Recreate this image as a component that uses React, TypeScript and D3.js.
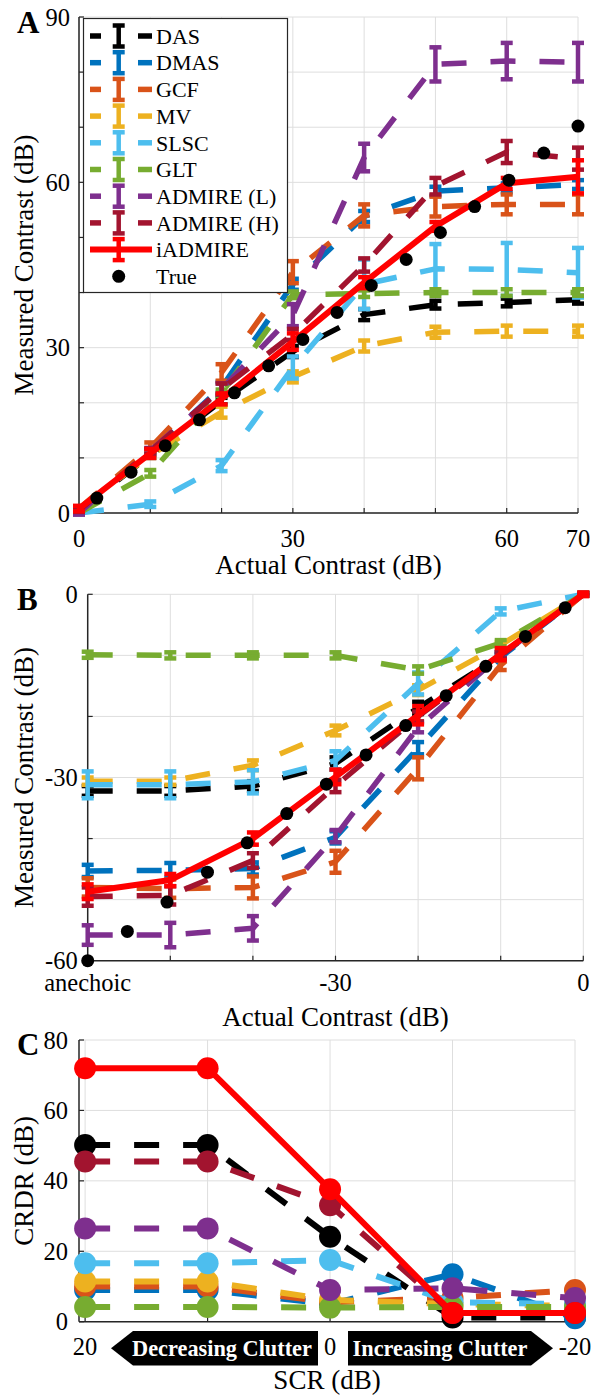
import React from 'react';
import * as d3 from 'd3';

const FONT = '"Liberation Serif","Times New Roman",Times,serif';

const methodNames = ['DAS', 'DMAS', 'GCF', 'MV', 'SLSC', 'GLT', 'ADMIRE (L)', 'ADMIRE (H)', 'iADMIRE'];
const methodColors = ['#000000', '#0072BD', '#D95319', '#EDB120', '#4DBEEE', '#77AC30', '#7E2F8E', '#A2142F', '#FF0000'];

// ---------- Panel A : hyperechoic / positive contrast ----------
const aActual = [0, 10, 20, 30, 40, 50, 60, 70];
const aDAS = [0.5, 10.5, 20.3, 29.3, 36.0, 37.8, 38.2, 38.7];
const aDASErr = [0.3, 0.5, 0.6, 1.0, 1.0, 0.7, 0.7, 0.7];
const aDMAS = [0.6, 11.0, 22.8, 41.5, 53.8, 58.4, 59.0, 59.6];
const aDMASErr = [0.3, 0.5, 1.0, 1.0, 1.0, 0.8, 0.8, 0.8];
const aGCF = [0.8, 11.8, 25.5, 43.7, 54.0, 55.6, 56.0, 56.0];
const aGCFErr = [0.3, 1.0, 1.5, 2.0, 2.0, 1.8, 1.8, 1.8];
const aMV = [0.8, 10.5, 18.3, 24.7, 30.3, 32.8, 33.0, 33.0];
const aMVErr = [0.3, 0.5, 1.0, 1.0, 1.0, 1.0, 1.0, 1.0];
const aSLSC = [0.0, 1.6, 8.6, 26.4, 41.5, 44.3, 44.2, 43.6];
const aSLSCErr = [0.2, 0.5, 1.0, 2.0, 4.5, 4.5, 4.8, 4.5];
const aGLT = [0.0, 7.2, 21.8, 39.6, 39.8, 40.0, 40.0, 40.0];
const aGLTErr = [0.2, 0.6, 0.6, 0.6, 0.6, 0.6, 0.6, 0.6];
const aADMIREL = [0.0, 11.3, 22.5, 35.9, 64.5, 81.4, 82.0, 81.8];
const aADMIRELErr = [0.3, 0.5, 1.0, 2.0, 2.5, 3.1, 3.3, 3.5];
const aADMIREH = [0.5, 11.2, 22.5, 32.4, 45.0, 59.3, 65.5, 64.3];
const aADMIREHErr = [0.3, 0.5, 1.0, 1.0, 1.2, 1.5, 2.0, 2.0];
const aIADMIRE = [0.8, 10.8, 20.7, 31.1, 41.8, 52.0, 59.8, 61.0];
const aIADMIREErr = [0.5, 0.8, 1.0, 1.5, 1.0, 0.8, 1.0, 3.0];
const aTrueX = [2.5, 7.3, 12.1, 16.9, 21.8, 26.6, 31.4, 36.2, 41.0, 45.9, 50.7, 55.5, 60.3, 65.2, 70.0];
const aTrueY = [2.7, 7.4, 12.2, 16.9, 21.8, 26.7, 31.5, 36.4, 41.3, 46.0, 50.9, 55.6, 60.4, 65.3, 70.2];
const aXTicks = [0, 10, 20, 30, 40, 50, 60, 70];
const aXTickLabels = ['0', '', '', '30', '', '', '60', '70'];
const aYTicks = [0, 10, 20, 30, 40, 50, 60, 70, 80, 90];
const aYTickLabels = ['0', '', '', '30', '', '', '60', '', '', '90'];

// ---------- Panel B : hypoechoic / negative contrast ----------
const bActual = [-60, -50, -40, -30, -20, -10, 0];
const bDAS = [-32.2, -32.2, -31.4, -27.7, -18.6, -10.0, 0.0];
const bDASErr = [0.8, 0.8, 0.8, 1.0, 1.0, 0.5, 0.2];
const bDMAS = [-45.3, -45.2, -44.9, -39.8, -25.2, -10.3, 0.0];
const bDMASErr = [1.0, 1.2, 1.0, 1.0, 1.0, 0.5, 0.2];
const bGCF = [-48.0, -48.2, -48.0, -43.8, -28.5, -11.6, 0.0];
const bGCFErr = [1.5, 1.5, 1.8, 1.8, 1.8, 0.8, 0.2];
const bMV = [-30.6, -30.6, -28.0, -22.3, -15.7, -8.3, 0.0];
const bMVErr = [0.6, 0.6, 0.8, 0.8, 0.8, 0.5, 0.2];
const bSLSC = [-31.2, -31.2, -30.7, -27.2, -14.6, -2.8, 0.0];
const bSLSCErr = [2.2, 2.2, 1.9, 1.5, 1.8, 0.5, 0.2];
const bGLT = [-9.9, -10.0, -10.0, -10.0, -12.4, -8.0, 0.0];
const bGLTErr = [0.5, 0.5, 0.5, 0.5, 0.6, 0.5, 0.2];
const bADMIREL = [-55.8, -55.8, -54.7, -39.6, -21.8, -10.0, 0.0];
const bADMIRELErr = [1.6, 2.0, 2.0, 1.0, 0.8, 0.5, 0.2];
const bADMIREH = [-49.5, -49.3, -43.6, -31.4, -20.0, -10.0, 0.0];
const bADMIREHErr = [1.5, 1.5, 1.2, 1.0, 0.8, 0.5, 0.2];
const bIADMIRE = [-48.7, -46.8, -40.0, -29.9, -19.8, -9.8, 0.0];
const bIADMIREErr = [1.2, 1.0, 1.0, 1.2, 1.5, 1.0, 0.3];
const bTrueX = [-60.0, -55.2, -50.4, -45.5, -40.7, -35.9, -31.1, -26.3, -21.5, -16.6, -11.8, -7.0, -2.2];
const bTrueY = [-60.0, -55.2, -50.4, -45.5, -40.7, -35.9, -31.1, -26.3, -21.5, -16.6, -11.8, -6.9, -2.2];
const bXTicks = [-60, -50, -40, -30, -20, -10, 0];
const bXTickLabels = ['anechoic', '', '', '-30', '', '', '0'];
const bYTicks = [-60, -50, -40, -30, -20, -10, 0];
const bYTickLabels = ['-60', '', '', '-30', '', '', '0'];

// ---------- Panel C : CRDR vs SCR ----------
const cSCR = [20, 10, 0, -10, -20];
const cDAS = [50.2, 50.2, 24.1, 1.2, 1.2];
const cDMAS = [9.0, 9.0, 5.0, 13.5, 1.0];
const cGCF = [10.0, 10.0, 5.5, 6.7, 9.0];
const cMV = [11.4, 11.4, 6.2, 5.0, 4.5];
const cSLSC = [16.6, 16.6, 17.5, 5.5, 5.0];
const cGLT = [4.2, 4.2, 4.0, 4.2, 4.2];
const cADMIREL = [26.5, 26.5, 9.0, 9.5, 6.7];
const cADMIREH = [45.5, 45.5, 33.1, 2.5, 2.5];
const cIADMIRE = [72.0, 72.0, 37.6, 2.5, 2.5];
const cXTicks = [20, 10, 0, -10, -20];
const cXTickLabels = ['20', '', '0', '', '-20'];
const cYTicks = [0, 20, 40, 60, 80];
const cYTickLabels = ['0', '20', '40', '60', '80'];

const aSeries = [
  [aDAS, aDASErr], [aDMAS, aDMASErr], [aGCF, aGCFErr], [aMV, aMVErr], [aSLSC, aSLSCErr],
  [aGLT, aGLTErr], [aADMIREL, aADMIRELErr], [aADMIREH, aADMIREHErr], [aIADMIRE, aIADMIREErr],
];
const bSeries = [
  [bDAS, bDASErr], [bDMAS, bDMASErr], [bGCF, bGCFErr], [bMV, bMVErr], [bSLSC, bSLSCErr],
  [bGLT, bGLTErr], [bADMIREL, bADMIRELErr], [bADMIREH, bADMIREHErr], [bIADMIRE, bIADMIREErr],
];
const cSeries = [cDAS, cDMAS, cGCF, cMV, cSLSC, cGLT, cADMIREL, cADMIREH, cIADMIRE];

const GRID = '#dedede';
const TICK_FS = 24.5;
const LABEL_FS = 27;
const DASH = '25 24';

type Scale = d3.ScaleLinear<number, number>;

function Axes({ x, y, xTicks, xLabels, yTicks, yLabels, xLabelDy, xTitle, xTitleY, yTitle, yLabelGap }: any) {
  const [xl, xr] = x.range();
  const [yb, yt] = y.range();
  return (
    <g>
      {xTicks.map((t: number, i: number) => (
        <line key={'gx' + i} x1={x(t)} x2={x(t)} y1={yb} y2={yt} stroke={GRID} strokeWidth={1} />
      ))}
      {yTicks.map((t: number, i: number) => (
        <line key={'gy' + i} x1={xl} x2={xr} y1={y(t)} y2={y(t)} stroke={GRID} strokeWidth={1} />
      ))}
      <line x1={xl} x2={xl} y1={yb} y2={yt} stroke="#262626" strokeWidth={1.5} />
      <line x1={xl} x2={xr} y1={yb} y2={yb} stroke="#262626" strokeWidth={1.5} />
      {xTicks.map((t: number, i: number) => (
        <line key={'tx' + i} x1={x(t)} x2={x(t)} y1={yb} y2={yb - 5} stroke="#262626" strokeWidth={1.2} />
      ))}
      {yTicks.map((t: number, i: number) => (
        <line key={'ty' + i} x1={xl} x2={xl + 5} y1={y(t)} y2={y(t)} stroke="#262626" strokeWidth={1.2} />
      ))}
      {xTicks.map((t: number, i: number) => xLabels[i] ? (
        <text key={'lx' + i} x={x(t)} y={yb + xLabelDy} textAnchor="middle" fontSize={TICK_FS} fontFamily={FONT} fill="#000">{xLabels[i]}</text>
      ) : null)}
      {yTicks.map((t: number, i: number) => yLabels[i] ? (
        <text key={'ly' + i} x={xl - yLabelGap} y={y(t)} dy="0.35em" textAnchor="end" fontSize={TICK_FS} fontFamily={FONT} fill="#000">{yLabels[i]}</text>
      ) : null)}
      <text x={(xl + xr) / 2} y={xTitleY} textAnchor="middle" fontSize={LABEL_FS} fontFamily={FONT} fill="#000">{xTitle}</text>
      <text transform={`translate(33,${(yb + yt) / 2}) rotate(-90)`} textAnchor="middle" fontSize={LABEL_FS} fontFamily={FONT} fill="#000">{yTitle}</text>
    </g>
  );
}

function ErrSeries({ xs, ys, errs, x, y, color, solid }: any) {
  const line = d3.line<number>().x((_, i) => x(xs[i])).y((d) => y(d));
  const cap = 6;
  return (
    <g>
      <path d={line(ys) || ''} fill="none" stroke={color} strokeWidth={solid ? 6 : 5.5} strokeDasharray={solid ? undefined : DASH} strokeLinejoin="round" />
      {ys.map((v: number, i: number) => {
        const cx = x(xs[i]);
        const top = y(v + errs[i]);
        const bot = y(v - errs[i]);
        return (
          <g key={i} stroke={color} strokeWidth={4.5}>
            <line x1={cx} x2={cx} y1={top} y2={bot} />
            <line x1={cx - cap} x2={cx + cap} y1={top} y2={top} />
            <line x1={cx - cap} x2={cx + cap} y1={bot} y2={bot} />
          </g>
        );
      })}
    </g>
  );
}

function Legend() {
  const x0 = 83.5, y0 = 18.5, w = 204, h = 274;
  const rowY = (i: number) => 36 + i * 26.7;
  const ex = 118.7;
  return (
    <g>
      <rect x={x0} y={y0} width={w} height={h} fill="#fff" stroke="#262626" strokeWidth={1.2} />
      {methodNames.map((n, i) => {
        const c = methodColors[i];
        const yy = rowY(i);
        const solid = i === 8;
        return (
          <g key={n}>
            {solid ? (
              <line x1={90} x2={152} y1={yy} y2={yy} stroke={c} strokeWidth={6} />
            ) : (
              <g stroke={c} strokeWidth={5.5}>
                <line x1={90} x2={101} y1={yy} y2={yy} />
                <line x1={138} x2={152} y1={yy} y2={yy} />
              </g>
            )}
            <g stroke={c} strokeWidth={4.5}>
              <line x1={ex} x2={ex} y1={yy - 10.5} y2={yy + 10.5} />
              <line x1={ex - 6} x2={ex + 6} y1={yy - 10.5} y2={yy - 10.5} />
              <line x1={ex - 6} x2={ex + 6} y1={yy + 10.5} y2={yy + 10.5} />
            </g>
            <text x={156} y={yy} dy="0.35em" fontSize={22} fontFamily={FONT} fill="#000">{n}</text>
          </g>
        );
      })}
      <circle cx={ex} cy={rowY(9)} r={6.5} fill="#000" />
      <text x={156} y={rowY(9)} dy="0.35em" fontSize={22} fontFamily={FONT} fill="#000">True</text>
    </g>
  );
}

export default function App() {
  const xA: Scale = d3.scaleLinear().domain([0, 70]).range([79, 578]);
  const yA: Scale = d3.scaleLinear().domain([0, 90]).range([513, 17]);
  const xB: Scale = d3.scaleLinear().domain([-60, 0]).range([87.7, 583.3]);
  const yB: Scale = d3.scaleLinear().domain([-60, 0]).range([960.7, 594.3]);
  const xC: Scale = d3.scaleLinear().domain([20.5, -20]).range([79, 575]);
  const yC: Scale = d3.scaleLinear().domain([0, 80]).range([1321.7, 1040]);

  const cLine = d3.line<number>().x((_, i) => xC(cSCR[i])).y((d) => yC(d));

  const arrowTop = 1331, arrowBot = 1365.5, arrowMid = (arrowTop + arrowBot) / 2;
  const decL = 111, decR = 318, incL = 348, incR = 553, tipW = 22;

  return (
    <svg width={592} height={1396} viewBox="0 0 592 1396" style={{ position: 'absolute', left: 0, top: 0, display: 'block', background: '#fff' }}>
      <rect x={0} y={0} width={592} height={1396} fill="#fff" />
      {/* Panel A */}
      <Axes x={xA} y={yA} xTicks={aXTicks} xLabels={aXTickLabels} yTicks={aYTicks} yLabels={aYTickLabels}
        xLabelDy={34} xTitle="Actual Contrast (dB)" xTitleY={574} yTitle="Measured Contrast (dB)" yLabelGap={9} />
      {aSeries.map(([v, e], i) => (
        <ErrSeries key={i} xs={aActual} ys={v} errs={e} x={xA} y={yA} color={methodColors[i]} solid={i === 8} />
      ))}
      {aTrueX.map((t, i) => <circle key={i} cx={xA(t)} cy={yA(aTrueY[i])} r={6.5} fill="#000" />)}
      <Legend />
      <text x={17} y={33} fontSize={31} fontWeight="bold" fontFamily={FONT} fill="#000">A</text>

      {/* Panel B */}
      <Axes x={xB} y={yB} xTicks={bXTicks} xLabels={bXTickLabels} yTicks={bYTicks} yLabels={bYTickLabels}
        xLabelDy={30.5} xTitle="Actual Contrast (dB)" xTitleY={1026} yTitle="Measured Contrast (dB)" yLabelGap={10} />
      {bSeries.map(([v, e], i) => (
        <ErrSeries key={i} xs={bActual} ys={v} errs={e} x={xB} y={yB} color={methodColors[i]} solid={i === 8} />
      ))}
      {bTrueX.map((t, i) => <circle key={i} cx={xB(t)} cy={yB(bTrueY[i])} r={6.5} fill="#000" />)}
      <text x={17} y={610} fontSize={31} fontWeight="bold" fontFamily={FONT} fill="#000">B</text>

      {/* Panel C */}
      <Axes x={xC} y={yC} xTicks={cXTicks} xLabels={cXTickLabels} yTicks={cYTicks} yLabels={cYTickLabels}
        xLabelDy={33.5} xTitle="SCR (dB)" xTitleY={1389} yTitle="CRDR (dB)" yLabelGap={11} />
      {cSeries.map((v, i) => (
        <g key={i}>
          <path d={cLine(v) || ''} fill="none" stroke={methodColors[i]} strokeWidth={6}
            strokeDasharray={i === 8 ? undefined : DASH} strokeLinejoin="round" />
          {v.map((d, j) => <circle key={j} cx={xC(cSCR[j])} cy={yC(d)} r={11} fill={methodColors[i]} />)}
        </g>
      ))}
      <text x={17} y={1055} fontSize={31} fontWeight="bold" fontFamily={FONT} fill="#000">C</text>

      <polygon points={`${decL},${arrowMid} ${decL + tipW},${arrowTop} ${decR},${arrowTop} ${decR},${arrowBot} ${decL + tipW},${arrowBot}`} fill="#000" />
      <text x={222} y={arrowMid} dy="0.35em" textAnchor="middle" fontSize={22.3} fontWeight="bold" fontFamily={FONT} fill="#fff">Decreasing Clutter</text>
      <polygon points={`${incL},${arrowTop} ${incR - tipW},${arrowTop} ${incR},${arrowMid} ${incR - tipW},${arrowBot} ${incL},${arrowBot}`} fill="#000" />
      <text x={440} y={arrowMid} dy="0.35em" textAnchor="middle" fontSize={22.3} fontWeight="bold" fontFamily={FONT} fill="#fff">Increasing Clutter</text>
    </svg>
  );
}
